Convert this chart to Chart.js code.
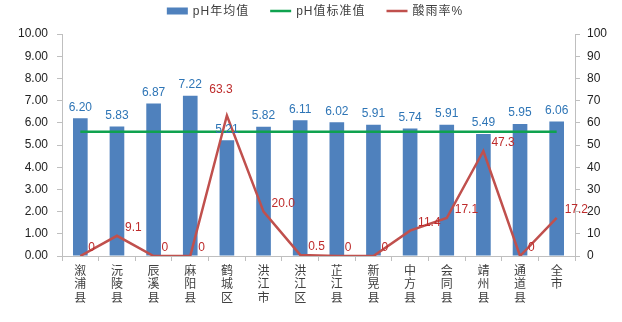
<!DOCTYPE html>
<html>
<head>
<meta charset="utf-8">
<script src="https://cdn.jsdelivr.net/npm/chart.js@4"></script>
<style>
  html, body { margin: 0; padding: 0; background: #fff; }
  #wrap { position: relative; width: 622px; height: 322px; }
</style>
</head>
<body>
<div id="wrap"><canvas id="c"></canvas></div>
<script>
// categories (vertical text, one char per line)
const counties = ["溆浦县", "沅陵县", "辰溪县", "麻阳县", "鹤城区", "洪江市", "洪江区", "芷江县", "新晃县", "中方县", "会同县", "靖州县", "通道县", "全市"];
const phAvg = [6.20, 5.83, 6.87, 7.22, 5.21, 5.82, 6.11, 6.02, 5.91, 5.74, 5.91, 5.49, 5.95, 6.06];
const phStandard = 5.6;
const acidRainRate = [0, 9.1, 0, 0, 63.3, 20.0, 0.5, 0, 0, 11.4, 17.1, 47.3, 0, 17.2];

const FONT = "'Liberation Sans', 'Noto Sans CJK SC', sans-serif";

// value labels on bars and on the acid rain line
const valueLabels = {
  id: "valueLabels",
  afterDatasetsDraw(chart) {
    const ctx = chart.ctx;
    ctx.save();
    ctx.font = "12px " + FONT;

    const bars = chart.getDatasetMeta(0).data;
    ctx.fillStyle = "#2E75B6";
    ctx.textAlign = "center";
    ctx.textBaseline = "bottom";
    bars.forEach((b, i) => ctx.fillText(phAvg[i].toFixed(2), b.x, b.y - 5));

    const pts = chart.getDatasetMeta(2).data;
    const maxVal = Math.max(...acidRainRate);
    ctx.fillStyle = "#BE2B2B";
    ctx.textBaseline = "middle";
    pts.forEach((p, i) => {
      const v = acidRainRate[i];
      const txt = (v === 0) ? "0" : v.toFixed(1);
      if (v === maxVal) {
        ctx.textAlign = "center";
        ctx.fillText(txt, p.x - 6, p.y - 26);
      } else {
        ctx.textAlign = "left";
        ctx.fillText(txt, p.x + 8, p.y - 8);
      }
    });
    ctx.restore();
  }
};

// simple legend across the top (built from the datasets)
const topLegend = {
  id: "topLegend",
  afterDraw(chart) {
    const ctx = chart.ctx;
    ctx.save();
    ctx.font = "12px " + FONT;
    ctx.letterSpacing = "1px";
    const sym = 21, gapTxt = 5, gapItem = 21, cy = 11;
    const items = chart.data.datasets.map(ds => ({
      ds, w: sym + gapTxt + ctx.measureText(ds.label).width
    }));
    const total = items.reduce((s, it) => s + it.w, 0) + gapItem * (items.length - 1);
    let x = 315 - total / 2;
    items.forEach(({ ds, w }) => {
      if (ds.type === "bar") {
        ctx.fillStyle = ds.backgroundColor;
        ctx.fillRect(x, cy - 3.5, sym, 7);
      } else {
        ctx.strokeStyle = ds.borderColor;
        ctx.lineWidth = 2.5;
        ctx.beginPath();
        ctx.moveTo(x, cy);
        ctx.lineTo(x + sym, cy);
        ctx.stroke();
      }
      ctx.fillStyle = "#404040";
      ctx.textAlign = "left";
      ctx.textBaseline = "middle";
      ctx.fillText(ds.label, x + sym + gapTxt, cy + 1);
      x += w + gapItem;
    });
    ctx.restore();
  }
};

new Chart(document.getElementById("c"), {
  data: {
    labels: counties.map(s => s.split("")),
    datasets: [
      {
        type: "bar",
        label: "pH年均值",
        data: phAvg,
        backgroundColor: "#4F81BD",
        borderWidth: 0,
        barPercentage: 0.4,
        categoryPercentage: 1,
        yAxisID: "y",
        order: 3
      },
      {
        type: "line",
        label: "pH值标准值",
        data: counties.map(() => phStandard),
        borderColor: "#0FA24F",
        backgroundColor: "#0FA24F",
        borderWidth: 2.5,
        pointRadius: 0,
        yAxisID: "y",
        order: 2
      },
      {
        type: "line",
        label: "酸雨率%",
        data: acidRainRate,
        borderColor: "#C0504D",
        backgroundColor: "#C0504D",
        borderWidth: 2.5,
        pointRadius: 0,
        tension: 0,
        yAxisID: "y1",
        order: 1
      }
    ]
  },
  options: {
    responsive: true,
    maintainAspectRatio: false,
    animation: false,
    layout: { padding: { left: 0, right: 0, top: 34, bottom: 0 } },
    plugins: {
      tooltip: { enabled: false },
      legend: { display: false }
    },
    scales: {
      x: {
        offset: true,
        grid: { offset: true, drawOnChartArea: false, tickLength: 5, color: "#BFBFBF" },
        border: { color: "#BFBFBF" },
        ticks: {
          color: "#404040",
          font: { size: 12, family: FONT, lineHeight: 1.12 },
          maxRotation: 0,
          autoSkip: false,
          padding: 4
        },
        afterFit(scale) { scale.height = 66; }
      },
      y: {
        position: "left",
        min: 0,
        max: 10,
        grid: { drawOnChartArea: false, tickLength: 5, color: "#BFBFBF" },
        border: { color: "#BFBFBF" },
        ticks: {
          stepSize: 1,
          color: "#222",
          padding: 9,
          font: { size: 12, family: FONT },
          callback: v => v.toFixed(2)
        },
        afterFit(scale) { scale.width = 62; }
      },
      y1: {
        position: "right",
        min: 0,
        max: 100,
        grid: { drawOnChartArea: false, tickLength: 5, color: "#BFBFBF" },
        border: { color: "#BFBFBF" },
        ticks: {
          stepSize: 10,
          color: "#222",
          padding: 7,
          font: { size: 12, family: FONT }
        },
        afterFit(scale) { scale.width = 47; }
      }
    }
  },
  plugins: [valueLabels, topLegend]
});
</script>
</body>
</html>
